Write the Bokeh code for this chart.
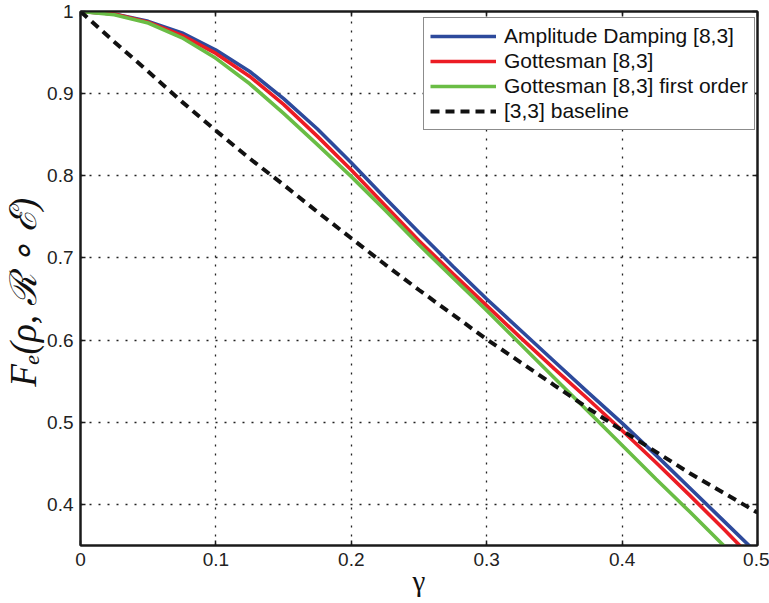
from bokeh.plotting import figure
from bokeh.models import FixedTicker, LinearAxis, Legend, LegendItem, Range1d
from bokeh.embed import file_html
from bokeh.resources import INLINE

# ---- data ----
gamma = [0.0, 0.025, 0.05, 0.075, 0.1, 0.125, 0.15, 0.175, 0.2, 0.225, 0.25,
         0.275, 0.3, 0.325, 0.35, 0.375, 0.4, 0.425, 0.45, 0.475, 0.5]
amp_damp = [1.000, 0.997, 0.988, 0.974, 0.953, 0.927, 0.894, 0.857, 0.816, 0.773, 0.731,
            0.690, 0.650, 0.612, 0.574, 0.536, 0.499, 0.460, 0.420, 0.380, 0.340]
gottesman = [1.000, 0.997, 0.987, 0.971, 0.949, 0.921, 0.887, 0.848, 0.807, 0.764, 0.721,
             0.681, 0.642, 0.603, 0.565, 0.528, 0.490, 0.451, 0.411, 0.370, 0.328]
gott_first = [1.000, 0.996, 0.986, 0.968, 0.943, 0.912, 0.876, 0.838, 0.799, 0.758, 0.716,
              0.676, 0.636, 0.595, 0.554, 0.513, 0.472, 0.431, 0.391, 0.350, 0.310]
baseline = [1.000, 0.963, 0.927, 0.890, 0.855, 0.821, 0.789, 0.756, 0.724, 0.692, 0.661,
            0.631, 0.601, 0.573, 0.545, 0.517, 0.490, 0.464, 0.438, 0.414, 0.390]

series_names = ["Amplitude Damping [8,3]", "Gottesman [8,3]",
                "Gottesman [8,3] first order", "[3,3] baseline"]

x_ticks = [0.0, 0.1, 0.2, 0.3, 0.4, 0.5]
x_tick_labels = ["0", "0.1", "0.2", "0.3", "0.4", "0.5"]
y_ticks = [0.4, 0.5, 0.6, 0.7, 0.8, 0.9, 1.0]
y_tick_labels = ["0.4", "0.5", "0.6", "0.7", "0.8", "0.9", "1"]

x_label = "γ"
y_label = "Fₑ(ρ, ℛ ∘ ℰ)\u00a0\u00a0\u00a0"

# ---- figure ----
AX = "#1a1a1a"
p = figure(width=769, height=603, output_backend="svg", toolbar_location=None,
           x_range=Range1d(0, 0.5), y_range=Range1d(0.35, 1.0),
           min_border_left=77, min_border_right=12, min_border_top=11, min_border_bottom=58,
           x_axis_label=x_label, y_axis_label=y_label)
p.background_fill_color = "white"
p.border_fill_color = "white"
p.outline_line_color = AX
p.outline_line_width = 2
p.outline_line_alpha = 1

for ax, ticks, labels in ((p.xaxis[0], x_ticks, x_tick_labels), (p.yaxis[0], y_ticks, y_tick_labels)):
    ax.ticker = FixedTicker(ticks=ticks)
    ax.major_label_overrides = {t: l for t, l in zip(ticks, labels)}
    ax.major_tick_in = 5
    ax.major_tick_out = 0
    ax.minor_tick_in = 0
    ax.minor_tick_out = 0
    ax.axis_line_color = AX
    ax.axis_line_width = 2
    ax.major_tick_line_color = AX
    ax.major_tick_line_width = 1.5
    ax.major_label_text_font = "Liberation Sans"
    ax.major_label_text_font_size = "19px"
    ax.major_label_text_color = "#222222"

p.yaxis[0].major_label_standoff = 7
p.yaxis[0].axis_label_standoff = 0
p.yaxis[0].axis_label_text_font = "Liberation Serif"
p.yaxis[0].axis_label_text_font_style = "italic"
p.yaxis[0].axis_label_text_font_size = "37px"
p.yaxis[0].axis_label_text_color = "#111111"

p.xaxis[0].major_label_standoff = 7
p.xaxis[0].axis_label_standoff = -4
p.xaxis[0].axis_label_text_font = "Liberation Serif"
p.xaxis[0].axis_label_text_font_style = "normal"
p.xaxis[0].axis_label_text_font_size = "29px"
p.xaxis[0].axis_label_text_color = "#111111"

# tick marks on top and right (no labels)
for side, ticks in (("above", x_ticks), ("right", y_ticks)):
    extra = LinearAxis(ticker=FixedTicker(ticks=ticks),
                       major_label_overrides={t: "" for t in ticks},
                       major_tick_in=5, major_tick_out=0,
                       minor_tick_in=0, minor_tick_out=0,
                       major_label_standoff=0,
                       major_label_text_font_size="1px",
                       axis_line_color=AX, axis_line_width=2,
                       major_tick_line_color=AX, major_tick_line_width=1.5)
    p.add_layout(extra, side)

# dotted grid
p.xgrid.ticker = FixedTicker(ticks=x_ticks)
p.ygrid.ticker = FixedTicker(ticks=y_ticks)
for g in (p.xgrid[0], p.ygrid[0]):
    g.grid_line_color = "#222222"
    g.grid_line_width = 1.3
    g.grid_line_dash = "2 7"

# ---- lines ----
r1 = p.line(gamma, amp_damp, line_color="#2d4a9c", line_width=3.6)
r2 = p.line(gamma, gottesman, line_color="#ec1c24", line_width=3.6)
r3 = p.line(gamma, gott_first, line_color="#6abd45", line_width=3.6)
r4 = p.line(gamma, baseline, line_color="#111111", line_width=4, line_dash="9 6")

legend = Legend(items=[LegendItem(label=n, renderers=[r]) for n, r in zip(series_names, [r1, r2, r3, r4])],
                location=(343, 415),
                label_text_font="Liberation Sans", label_text_font_size="21px",
                label_text_color="#111111",
                glyph_width=66, glyph_height=22, label_standoff=8,
                spacing=1, padding=6, margin=0,
                border_line_color=AX, border_line_width=1.5,
                background_fill_color="white", background_fill_alpha=1)
p.add_layout(legend)

open("out.html", "w").write(file_html(p, INLINE))
